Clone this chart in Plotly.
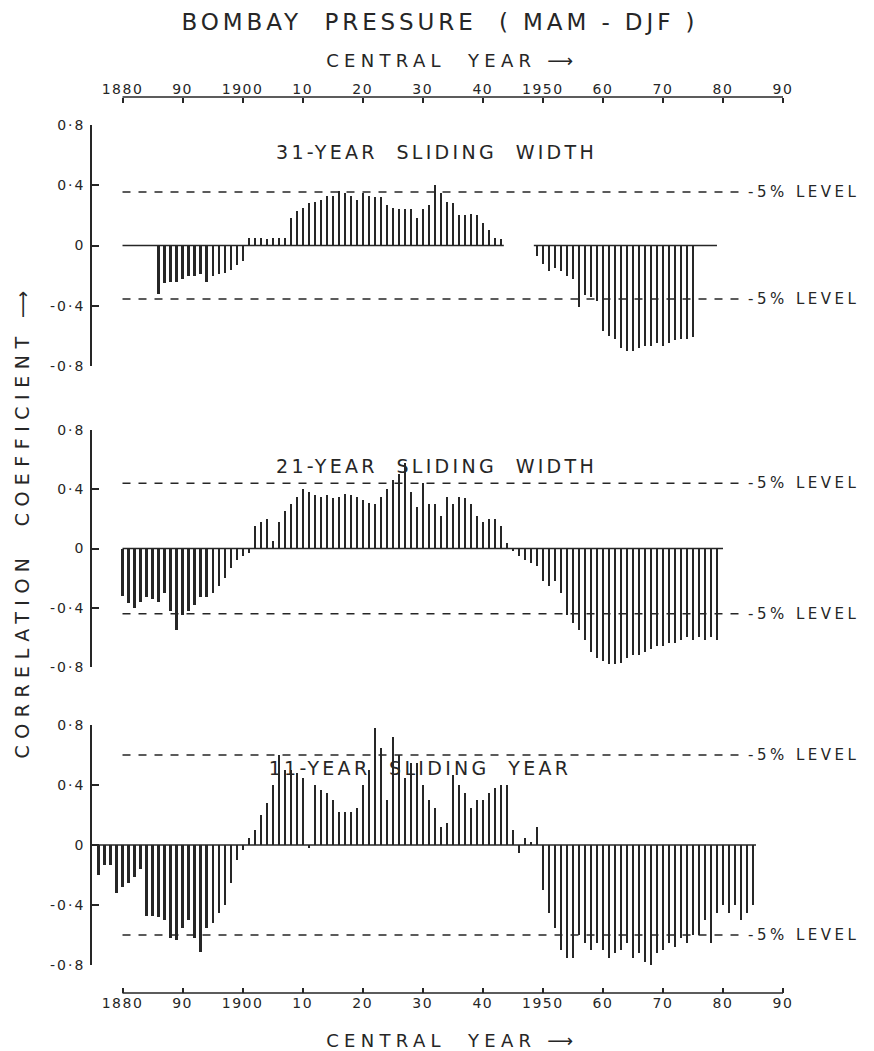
import plotly.graph_objects as go

# ---------------- data ----------------
years_31a = list(range(1886, 1944))
corr_31a = [-0.32, -0.25, -0.24, -0.24, -0.22, -0.20, -0.20, -0.19, -0.24, -0.20,
            -0.19, -0.18, -0.16, -0.13, -0.10,
            0.05, 0.05, 0.05, 0.04, 0.05, 0.05, 0.05, 0.18, 0.23, 0.25,
            0.28, 0.29, 0.30, 0.33, 0.33, 0.36, 0.35, 0.33, 0.30, 0.35,
            0.33, 0.32, 0.32, 0.27, 0.25, 0.24, 0.24, 0.24, 0.18, 0.24,
            0.27, 0.40, 0.35, 0.29, 0.28, 0.20, 0.20, 0.21, 0.20, 0.15,
            0.10, 0.05, 0.04]
years_31b = list(range(1949, 1976))
corr_31b = [-0.07, -0.12, -0.17, -0.15, -0.17, -0.20, -0.22, -0.41, -0.33, -0.34,
            -0.37, -0.57, -0.60, -0.62, -0.68, -0.70, -0.70, -0.68, -0.67, -0.67,
            -0.65, -0.67, -0.65, -0.63, -0.62, -0.62, -0.61]

years_21 = list(range(1880, 1980))
corr_21 = [-0.32, -0.37, -0.40, -0.36, -0.33, -0.34, -0.36, -0.30, -0.42, -0.55,
           -0.45, -0.42, -0.38, -0.33, -0.33, -0.30, -0.25, -0.20, -0.13, -0.08,
           -0.05, -0.03,
           0.15, 0.18, 0.20, 0.05, 0.18, 0.25, 0.30, 0.35, 0.40, 0.38,
           0.36, 0.35, 0.36, 0.34, 0.35, 0.37, 0.36, 0.35, 0.33, 0.31,
           0.30, 0.35, 0.40, 0.46, 0.50, 0.58, 0.38, 0.28, 0.44, 0.30,
           0.30, 0.22, 0.35, 0.30, 0.35, 0.34, 0.30, 0.22, 0.18, 0.20,
           0.20, 0.15, 0.04,
           -0.02, -0.05, -0.08, -0.10, -0.12, -0.22, -0.25, -0.22, -0.30, -0.45,
           -0.50, -0.55, -0.62, -0.70, -0.74, -0.76, -0.78, -0.78, -0.77, -0.74,
           -0.72, -0.72, -0.70, -0.68, -0.66, -0.66, -0.64, -0.64, -0.62, -0.60,
           -0.62, -0.60, -0.62, -0.60, -0.62]

years_11 = list(range(1876, 1986))
corr_11 = [-0.20, -0.13, -0.13, -0.32, -0.28, -0.25, -0.21, -0.16, -0.47, -0.47,
           -0.48, -0.50, -0.62, -0.63, -0.55, -0.50, -0.62, -0.71, -0.55, -0.52,
           -0.45, -0.40, -0.25, -0.10, -0.03,
           0.05, 0.10, 0.20, 0.28, 0.40, 0.60, 0.50, 0.50, 0.48, 0.45,
           -0.02, 0.40, 0.37, 0.35, 0.30, 0.22, 0.22, 0.22, 0.25, 0.40,
           0.50, 0.78, 0.65, 0.30, 0.72, 0.60, 0.45, 0.55, 0.55, 0.40,
           0.30, 0.25, 0.12, 0.15, 0.47, 0.40, 0.35, 0.25, 0.30, 0.30,
           0.35, 0.38, 0.40, 0.40, 0.10, -0.05, 0.05, 0.02, 0.12,
           -0.30, -0.45, -0.55, -0.70, -0.75, -0.75, -0.60, -0.65, -0.70, -0.65,
           -0.70, -0.75, -0.72, -0.70, -0.65, -0.75, -0.72, -0.78, -0.80, -0.72,
           -0.70, -0.65, -0.68, -0.62, -0.65, -0.60, -0.60, -0.50, -0.65, -0.45,
           -0.40, -0.45, -0.40, -0.50, -0.45, -0.40]

# 5% significance levels (+/-) for each window
level_31 = 0.355
level_21 = 0.44
level_11 = 0.60

# zero-line extents (years) for each panel
base_31 = [(1880, 1943.5), (1948.5, 1979)]
base_21 = [(1880, 1980)]
base_11 = [(1874.9, 1985.5)]

tick_years = [1880, 1890, 1900, 1910, 1920, 1930, 1940, 1950, 1960, 1970, 1980, 1990]
tick_year_text = ["1880", "90", "1900", "10", "20", "30", "40", "1950", "60", "70", "80", "90"]
y_ticks = [-0.8, -0.4, 0, 0.4, 0.8]
y_tick_text = ["-0·8", "-0·4", "0", "0·4", "0·8"]

panel_titles = ["31-YEAR  SLIDING  WIDTH", "21-YEAR  SLIDING  WIDTH", "11-YEAR  SLIDING  YEAR"]

# ---------------- style ----------------
INK = "#262626"
FONT = "DejaVu Sans"
X_RANGE = [1874.92, 1991.16]
L, R, T, B = 92, 84, 97, 58
W, H = 874 - L - R, 1051 - T - B


def px_x(p):
    return (p - L) / W


def px_y(p):
    return (1051 - B - p) / H


fig = go.Figure()
css = []  # letter-spacing rules per annotation index

panels = [
    ("y", [(years_31a, corr_31a), (years_31b, corr_31b)], base_31, level_31),
    ("y2", [(years_21, corr_21)], base_21, level_21),
    ("y3", [(years_11, corr_11)], base_11, level_11),
]

ann_index = 0
for yax, series, bases, lev in panels:
    for yrs, vals in series:
        fig.add_trace(go.Bar(x=yrs, y=vals, width=0.36, marker=dict(color=INK, line=dict(width=0)),
                             xaxis="x", yaxis=yax, showlegend=False, hoverinfo="x+y"))
    for (a, b) in bases:
        fig.add_trace(go.Scatter(x=[a, b], y=[0, 0], mode="lines", line=dict(color=INK, width=1.6),
                                 xaxis="x", yaxis=yax, showlegend=False, hoverinfo="skip"))
    for s in (1, -1):
        fig.add_shape(type="line", xref="x", yref=yax, x0=1880, x1=1982.6, y0=s * lev, y1=s * lev,
                      line=dict(color=INK, width=1.5, dash="8px,8px"))
        fig.add_annotation(xref="x", yref=yax, x=1983.9, y=s * lev, text="-5% LEVEL", showarrow=False,
                           xanchor="left", yanchor="middle", align="left",
                           font=dict(family=FONT, size=15, color=INK))
        css.append((ann_index, 3.5))
        ann_index += 1

# axis lines for top and bottom year axes
for yp in (0, 1):
    fig.add_shape(type="line", xref="x", yref="paper", x0=1880, x1=1990, y0=yp, y1=yp,
                  line=dict(color=INK, width=1.5))

yaxis_common = dict(range=[-0.8, 0.8], tickvals=y_ticks, ticktext=y_tick_text, ticks="inside",
                    ticklen=7, tickwidth=1.5, tickcolor=INK, showline=True, linecolor=INK, linewidth=1.6,
                    showgrid=False, zeroline=False, anchor="x", automargin=False, ticklabelstandoff=2,
                    tickfont=dict(family=FONT, size=14, color=INK))

xaxis_common = dict(range=X_RANGE, tickvals=tick_years, ticktext=tick_year_text, ticks="inside",
                    ticklen=5, tickwidth=1.5, tickcolor=INK, showline=False, showgrid=False,
                    zeroline=False, automargin=False, tickfont=dict(family=FONT, size=14, color=INK))

fig.update_layout(
    width=874, height=1051,
    margin=dict(l=L, r=R, t=T, b=B, autoexpand=False),
    paper_bgcolor="white", plot_bgcolor="white",
    bargap=0,
    xaxis=dict(domain=[0, 1], anchor="free", position=0, **xaxis_common),
    xaxis2=dict(overlaying="x", side="top", anchor="free", position=1, **xaxis_common),
    yaxis=dict(domain=[px_y(366), px_y(125)], **yaxis_common),
    yaxis2=dict(domain=[px_y(667), px_y(430)], **yaxis_common),
    yaxis3=dict(domain=[px_y(965), px_y(725)], **yaxis_common),
)

# invisible trace so the top axis is drawn
fig.add_trace(go.Scatter(x=[1880], y=[0], xaxis="x2", yaxis="y", mode="markers",
                         marker=dict(opacity=0), showlegend=False, hoverinfo="skip"))

# titles
texts = [
    ("BOMBAY  PRESSURE  ( MAM - DJF )", 440, 22, 23, 0, 3.9),
    ("CENTRAL  YEAR ⟶", 452, 60, 18, 0, 5.3),
    ("CENTRAL  YEAR ⟶", 452, 1040, 18, 0, 5.3),
    ("CORRELATION  COEFFICIENT ⟶", 22, 522, 19, -90, 6.5),
]
for t, px, py, fs, ang, sp in texts:
    fig.add_annotation(xref="paper", yref="paper", x=px_x(px), y=px_y(py), text=t, showarrow=False,
                       textangle=ang, xanchor="center", yanchor="middle",
                       font=dict(family=FONT, size=fs, color=INK))
    css.append((ann_index, sp))
    ann_index += 1

panel_title_pos = [(436, 152), (436, 466), (420, 768)]
for t, (px, py) in zip(panel_titles, panel_title_pos):
    fig.add_annotation(xref="paper", yref="paper", x=px_x(px), y=px_y(py),
                       text=t, showarrow=False, xanchor="center", yanchor="middle",
                       font=dict(family=FONT, size=19, color=INK))
    css.append((ann_index, 3.3))
    ann_index += 1

rules = "html,body{margin:0;padding:0;}"
rules += "".join('g.annotation[data-index="%d"] text{letter-spacing:%.1fpx;}' % (i, s) for i, s in css)
rules += ".xtick text, .x2tick text{letter-spacing:1.5px;} .ytick text, .y2tick text, .y3tick text{letter-spacing:2px;}"
post = "var st=document.createElement('style');st.textContent=%r;document.head.appendChild(st);" % rules

fig.write_html("out.html", post_script=post, config={"displayModeBar": False})
